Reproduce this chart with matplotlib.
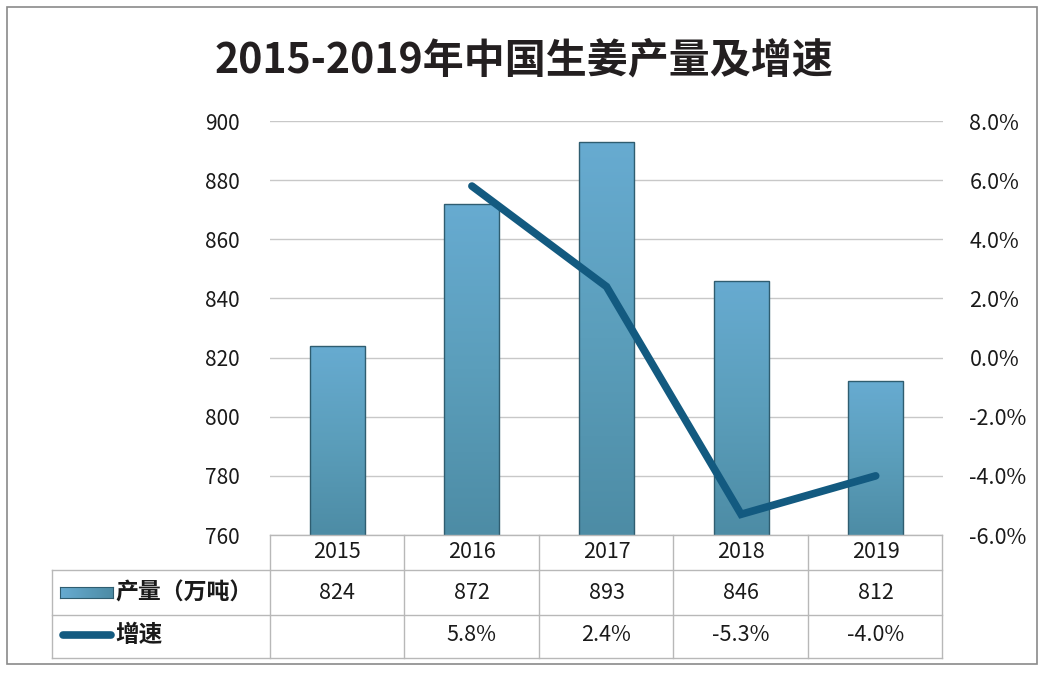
import matplotlib
matplotlib.use("Agg")
import matplotlib.pyplot as plt
import numpy as np
from matplotlib.lines import Line2D
from matplotlib.patches import Rectangle
import matplotlib.transforms as mtransforms
from matplotlib.colors import LinearSegmentedColormap

plt.rcParams['font.family'] = ['Noto Sans CJK SC', 'DejaVu Sans']

years = ['2015', '2016', '2017', '2018', '2019']
output = [824, 872, 893, 846, 812]
growth = [None, 5.8, 2.4, -5.3, -4.0]
output_labels = ['824', '872', '893', '846', '812']
growth_labels = ['', '5.8%', '2.4%', '-5.3%', '-4.0%']
left_ticks = [760, 780, 800, 820, 840, 860, 880, 900]
right_ticks = [-6, -4, -2, 0, 2, 4, 6, 8]
title = '2015-2019年中国生姜产量及增速'
bar_name = '产量（万吨）'
line_name = '增速'

W, H = 1044, 678
fig = plt.figure(figsize=(W / 100, H / 100), dpi=100)
fig.patch.set_facecolor('white')

def fx(px):
    return px / W

def fy(py):
    return 1 - py / H

# outer frame
fig.add_artist(Rectangle((fx(7), fy(664)), fx(1037) - fx(7), fy(7) - fy(664),
                         transform=fig.transFigure, fill=False,
                         edgecolor='#8a8a8a', linewidth=1.2))

ax_l, ax_r, ax_t, ax_b = 270, 943, 121, 535
ax = fig.add_axes([fx(ax_l), fy(ax_b), fx(ax_r) - fx(ax_l), fy(ax_t) - fy(ax_b)])
ax2 = ax.twinx()

x = np.arange(len(years))
ax.set_xlim(-0.5, len(years) - 0.5)
ax.set_ylim(760, 900)
ax2.set_ylim(-6, 8)

cmap = LinearSegmentedColormap.from_list('g', ['#4d8ca5', '#5b9ebb', '#67abd1'])
bars = ax.bar(x, output, width=0.41, color='none', edgecolor='#2f5d70',
              linewidth=1.0, zorder=3)
grad = np.linspace(0, 1, 256).reshape(-1, 1)
for b in bars:
    x0, y0 = b.get_x(), b.get_y()
    w, h = b.get_width(), b.get_height()
    im = ax.imshow(grad, extent=[x0, x0 + w, 760, y0 + h], origin='lower',
                   cmap=cmap, aspect='auto', zorder=2)
    im.set_clip_path(b)

ax.set_yticks(left_ticks)
ax.set_yticklabels([str(t) for t in left_ticks])
ax.grid(axis='y', color='#c8c8c8', linewidth=1.0, zorder=0)
ax.set_axisbelow(True)
ax.set_xticks([])
for s in ax.spines.values():
    s.set_visible(False)
for s in ax2.spines.values():
    s.set_visible(False)
ax.tick_params(axis='y', length=0, pad=22, labelsize=15, labelcolor='#1a1a1a')

gx = [xi for xi, g in zip(x, growth) if g is not None]
gy = [g for g in growth if g is not None]
ax2.plot(gx, gy, color='#135a80', linewidth=5.5, solid_capstyle='round',
         solid_joinstyle='miter', zorder=5)
ax2.set_yticks(right_ticks)
ax2.set_yticklabels([f'{t:.1f}%' for t in right_ticks])
ax2.tick_params(axis='y', length=0, pad=19, labelsize=15.5, labelcolor='#1a1a1a')
ax2.set_xlim(-0.5, len(years) - 0.5)

# title
fig.text(fx(524), fy(60), title, ha='center', va='center', fontsize=29.5,
         fontweight='bold', color='#231f20')

# data table
tc = '#b8b8b8'
def hline(py, x0, x1):
    fig.add_artist(Line2D([fx(x0), fx(x1)], [fy(py), fy(py)], transform=fig.transFigure,
                          color=tc, linewidth=1.0))

def vline(px, y0, y1):
    fig.add_artist(Line2D([fx(px), fx(px)], [fy(y0), fy(y1)], transform=fig.transFigure,
                          color=tc, linewidth=1.0))

hline(535, ax_l, 942)
hline(570, 52, 942)
hline(615, 52, 942)
hline(658, 52, 942)
vline(52, 570, 658)
for i in range(len(years) + 1):
    px = ax_l + i * (942 - ax_l) / len(years)
    vline(px, 535, 658)

trans = mtransforms.blended_transform_factory(ax.transData, fig.transFigure)
for xi, yr, ov, gv in zip(x, years, output_labels, growth_labels):
    ax.text(xi, fy(552), yr, transform=trans, ha='center', va='center',
            fontsize=15.5, color='#1a1a1a', clip_on=False)
    ax.text(xi, fy(593), ov, transform=trans, ha='center', va='center',
            fontsize=15.5, color='#1a1a1a', clip_on=False)
    ax.text(xi, fy(635), gv, transform=trans, ha='center', va='center',
            fontsize=15.5, color='#1a1a1a', clip_on=False)

# legend keys
sw = fig.add_axes([fx(60), fy(598), fx(113) - fx(60), fy(587) - fy(598)])
sw.imshow(np.linspace(0, 1, 64).reshape(1, -1), cmap=LinearSegmentedColormap.from_list(
    'h', ['#67abd1', '#4d8ca5']), aspect='auto')
sw.set_xticks([]); sw.set_yticks([])
for s in sw.spines.values():
    s.set_color('#2f5d70'); s.set_linewidth(0.8)
fig.add_artist(Line2D([fx(63), fx(111)], [fy(635), fy(635)], transform=fig.transFigure,
                      color='#135a80', linewidth=5.5, solid_capstyle='round'))
fig.text(fx(115), fy(593), bar_name, ha='left', va='center', fontsize=16.5,
         fontweight='bold', color='#1a1a1a')
fig.text(fx(115), fy(635), line_name, ha='left', va='center', fontsize=17,
         fontweight='bold', color='#1a1a1a')

fig.savefig('out.png', dpi=100, facecolor='white')
